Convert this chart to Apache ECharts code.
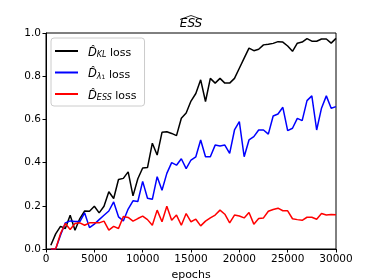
<!DOCTYPE html>
<html><head><meta charset="utf-8">
<script src="https://cdn.jsdelivr.net/npm/echarts@6/dist/echarts.min.js"></script>
<style>html,body{margin:0;padding:0;background:#fff}#c{width:374px;height:280px}</style>
</head><body><div id="c"></div>
<script>
const epochs = [500,1000,1500,2000,2500,3000,3500,4000,4500,5000,5500,6000,6500,7000,7500,8000,8500,9000,9500,10000,
10500,11000,11500,12000,12500,13000,13500,14000,14500,15000,15500,16000,16500,17000,17500,18000,18500,19000,19500,20000,
20500,21000,21500,22000,22500,23000,23500,24000,24500,25000,25500,26000,26500,27000,27500,28000,28500,29000,29500,30000];
const klLoss = [0.017,0.07,0.105,0.095,0.156,0.087,0.141,0.176,0.175,0.198,0.167,0.198,0.265,0.234,0.322,0.327,0.357,0.246,0.325,0.375,
0.377,0.49,0.435,0.54,0.543,0.535,0.525,0.605,0.63,0.685,0.72,0.783,0.683,0.79,0.768,0.79,0.768,0.768,0.79,0.837,
0.884,0.93,0.918,0.925,0.945,0.948,0.952,0.96,0.958,0.94,0.915,0.953,0.958,0.974,0.962,0.962,0.972,0.972,0.953,0.975];
const lambdaLoss = [0,0,0.064,0.121,0.13,0.127,0.127,0.167,0.099,0.115,0.136,0.156,0.176,0.218,0.149,0.13,0.185,0.223,0.22,0.313,
0.235,0.23,0.335,0.272,0.35,0.40,0.388,0.418,0.372,0.412,0.427,0.505,0.427,0.427,0.481,0.477,0.481,0.443,0.551,0.59,
0.427,0.505,0.52,0.551,0.551,0.532,0.616,0.625,0.656,0.548,0.559,0.605,0.594,0.687,0.709,0.551,0.652,0.709,0.652,0.659];
const essLoss = [0,0,0.071,0.118,0.09,0.118,0.121,0.11,0.121,0.121,0.121,0.129,0.087,0.105,0.095,0.15,0.146,0.129,0.141,0.152,
0.136,0.11,0.18,0.126,0.198,0.133,0.157,0.11,0.164,0.126,0.138,0.107,0.129,0.144,0.157,0.18,0.161,0.121,0.157,0.153,
0.144,0.169,0.115,0.141,0.144,0.175,0.183,0.189,0.177,0.177,0.14,0.136,0.133,0.147,0.147,0.138,0.164,0.157,0.16,0.158];
const xTicks = [0,5000,10000,15000,20000,25000,30000];
const yTicks = [0.0,0.2,0.4,0.6,0.8,1.0];

const FONT = 'DejaVu Sans';
const pairs = arr => epochs.map((e,i)=>[e,arr[i]]);
const legendText = {
  KL: '{d|D\u0302}{sub|KL}{t| loss}',
  L1: '{d|D\u0302}{sub|\u03bb}{sub2|1}{t| loss}',
  ESS: '{d|D\u0302}{sub|ESS}{t| loss}'
};
const chart = echarts.init(document.getElementById('c'), null, {renderer:'canvas'});
chart.setOption({
  animation:false,
  backgroundColor:'#fff',
  title:{text:'ESS', left:191, top:18, textAlign:'center', padding:0,
    textStyle:{fontFamily:FONT, fontSize:12, fontStyle:'italic', fontWeight:'normal', color:'#000'}},
  graphic:[{type:'polyline', shape:{points:[[180,19.5],[191,15.5],[202,19.5]]}, style:{stroke:'#000', lineWidth:0.8, fill:null}}],
  grid:{left:46, right:38, top:33, bottom:31, show:true, borderColor:'#000', borderWidth:1, containLabel:false, outerBoundsMode:'none'},
  legend:{
    orient:'vertical', left:51, top:38, padding:[9,8,4,4], itemGap:9.5,
    itemWidth:23, itemHeight:2, icon:'rect',
    backgroundColor:'rgba(255,255,255,0.8)', borderColor:'#ccc', borderWidth:1, borderRadius:3,
    data:['KL','L1','ESS'],
    formatter: n => legendText[n],
    textStyle:{fontFamily:FONT, fontSize:11, color:'#000', padding:[0,0,0,5],
      rich:{
        d:{fontFamily:FONT, fontSize:11.5, fontStyle:'italic', lineHeight:16, verticalAlign:'bottom'},
        sub:{fontFamily:FONT, fontSize:8, fontStyle:'italic', lineHeight:16, verticalAlign:'bottom', padding:[3,0,0,0]},
        sub2:{fontFamily:FONT, fontSize:6, lineHeight:16, verticalAlign:'bottom', padding:[5,0,0,0]},
        t:{fontFamily:FONT, fontSize:11, lineHeight:16, verticalAlign:'bottom'}
      }}
  },
  xAxis:{type:'value', min:xTicks[0], max:xTicks[xTicks.length-1], interval:xTicks[1]-xTicks[0],
    name:'epochs', nameLocation:'middle', nameGap:17,
    nameTextStyle:{fontFamily:FONT, fontSize:11, color:'#000'},
    axisLine:{lineStyle:{color:'#000', width:1}}, axisTick:{length:3.5, lineStyle:{color:'#000'}},
    axisLabel:{fontFamily:FONT, fontSize:10.5, color:'#000', margin:5, formatter:v=>String(v)}, splitLine:{show:false}},
  yAxis:{type:'value', min:yTicks[0], max:yTicks[yTicks.length-1], interval:0.2,
    axisLine:{show:true, lineStyle:{color:'#000', width:1}}, axisTick:{show:true, length:3.5, lineStyle:{color:'#000'}},
    axisLabel:{fontFamily:FONT, fontSize:10.5, color:'#000', margin:5, formatter:v=>v.toFixed(1)}, splitLine:{show:false}},
  series:[
    {name:'KL', type:'line', data:pairs(klLoss), showSymbol:false, symbol:'none', lineStyle:{color:'#000', width:1.5}, itemStyle:{color:'#000'}, z:2},
    {name:'L1', type:'line', data:pairs(lambdaLoss), showSymbol:false, symbol:'none', lineStyle:{color:'#0000ff', width:1.5}, itemStyle:{color:'#0000ff'}, z:3},
    {name:'ESS', type:'line', data:pairs(essLoss), showSymbol:false, symbol:'none', lineStyle:{color:'#ff0000', width:1.5}, itemStyle:{color:'#ff0000'}, z:4}
  ]
});
</script></body></html>
